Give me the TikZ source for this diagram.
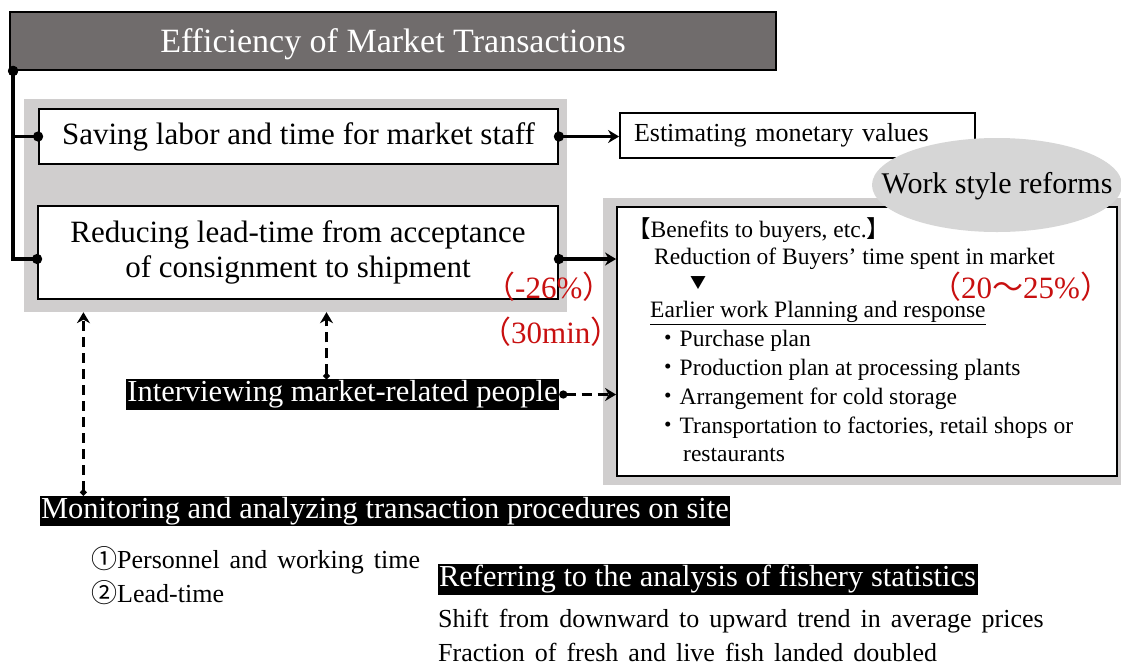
\documentclass[tikz,border=0pt]{standalone}
\usepackage{fontspec}
\setmainfont{Liberation Serif}
\newfontfamily\cjk{Noto Sans CJK JP}
\usepackage{tikz}
\usetikzlibrary{arrows.meta, positioning}
\definecolor{headgray}{RGB}{112,108,108}
\definecolor{panelgray}{RGB}{208,206,206}
\definecolor{ovalgray}{RGB}{214,214,214}
\definecolor{redtxt}{RGB}{200,16,16}

\begin{document}
\begin{tikzpicture}[x=1pt, y=-1pt, >={Stealth[length=11pt, width=13pt]},
        box/.style={draw, line width=1.8pt, fill=white, inner sep=0pt},
        panel/.style={fill=panelgray, inner sep=0pt},
        blk/.style={fill=black, text=white, inner sep=1.5pt, font=\fontsize{30.5}{34}\selectfont},
        txt/.style={anchor=west, inner sep=0pt, font=\fontsize{23.5}{27}\selectfont},
        note/.style={anchor=west, inner sep=0pt, font={\fontsize{26}{30}\selectfont\spaceskip=10pt plus 1pt}},
        redlab/.style={anchor=west, inner sep=0pt, text=redtxt, font=\fontsize{31}{35}\selectfont},
        conn/.style={line width=3.5pt},
        dashconn/.style={line width=3.5pt, dash pattern=on 10pt off 6pt}]
    \useasboundingbox (0,0) rectangle (1121,667);

    % title
    \node[draw, line width=1.8pt, fill=headgray, text=white, minimum width=766, minimum height=58,
        inner sep=0pt, text depth=0pt, font=\fontsize{34}{40}\selectfont] (title) at (393,41) {Efficiency of Market Transactions};

    % left panel
    \node[panel, minimum width=543, minimum height=213] (leftpanel) at (295.5,205.5) {};
    \node[box, minimum width=519, minimum height=55, font=\fontsize{31}{36}\selectfont] (saving) at (298.5,136.5)
        {Saving labor and time for market staff};
    \node[box, minimum width=520, minimum height=93, align=center, font=\fontsize{31}{35}\selectfont] (leadtime) at (298,252.5)
        {Reducing lead-time from acceptance\\of consignment to shipment};

    % right side
    \node[box, text width=327pt, inner xsep=14pt, minimum height=45, align=left,
        font={\fontsize{26}{30}\selectfont\spaceskip=15pt plus 2pt}] (estimate) at (797.5,135.5) {Estimating monetary values};
    \node[panel, minimum width=518, minimum height=287] (rightpanel) at (862,341.5) {};
    \node[box, minimum width=500, minimum height=269] (benefits) at (867,341.5) {};
    \fill[ovalgray] (997,185) ellipse [x radius=125, y radius=47];
    \node[inner sep=0pt, font=\fontsize{30}{34}\selectfont] (reform) at (997,186) {Work style reforms};

    % benefits text
    \node[txt] (bene) at (627,230) {{\cjk 【}Benefits to buyers, etc.{\cjk 】}};
    \node[txt] (reduc) at (654,259) {Reduction of Buyers’ time spent in market};
    \node[inner sep=0pt, font=\cjk\fontsize{16}{16}\selectfont] (tri) at (698,283) {▼};
    \node[redlab, text depth=0pt] (pcttwo) at (930,285) {{\cjk （}20{\cjk 〜}25\%{\cjk ）}};
    \node[txt] (early) at (650,313) {\underline{Earlier work Planning and response}};
    \node[txt] (bone) at (656,341) {{\cjk ・}Purchase plan};
    \node[txt] (btwo) at (656,370) {{\cjk ・}Production plan at processing plants};
    \node[txt] (bthree) at (656,399) {{\cjk ・}Arrangement for cold storage};
    \node[txt] (bfour) at (656,428) {{\cjk ・}Transportation to factories, retail shops or};
    \node[txt] (bfive) at (683,455) {restaurants};

    % red notes
    \node[redlab] (pctone) at (484,287) {{\cjk （}-26\%{\cjk ）}};
    \node[redlab] (mins) at (480,332) {{\cjk （}30min{\cjk ）}};

    % methods
    \node[blk] (interview) at (342.5,394.5) {Interviewing market-related people};
    \node[blk] (monitor) at (385,511) {Monitoring and analyzing transaction procedures on site};
    \node[blk] (refer) at (707.5,579.5) {Referring to the analysis of fishery statistics};
    \node[note] (pers) at (91,560) {{\cjk ①}Personnel and working time};
    \node[note] (lead) at (91,593) {{\cjk ②}Lead-time};
    \node[note] (shift) at (438,621) {Shift from downward to upward trend in average prices};
    \node[note] (fresh) at (438,652) {Fraction of fresh and live fish landed doubled};

    % connectors
    \coordinate (corner) at ([xshift=4pt]title.south west);
    \draw[conn, {Circle[length=10pt]}-{Circle[length=10pt]}, shorten <=-5pt, shorten >=-5pt]
        (corner) |- (saving.west);
    \draw[conn, {Circle[length=10pt]}-{Circle[length=10pt]}, shorten <=-5pt, shorten >=-5pt]
        (corner) |- ([yshift=-6.5pt]leadtime.west);
    \draw[conn, {Circle[length=10pt]}->, shorten <=-5pt]
        (saving.east) -- (saving.east -| estimate.west);
    \coordinate (ltout) at ([yshift=-6.5pt]leadtime.east);
    \draw[conn, {Circle[length=10pt]}->, shorten <=-5pt]
        (ltout) -- (ltout -| benefits.west);
    \draw[dashconn, {Circle[length=8pt]}->]
        (interview.east) -- (interview.east -| benefits.west);
    \coordinate (intup) at ([xshift=-16pt]interview.north);
    \draw[dashconn, {Circle[length=6pt]}->]
        (intup) -- (intup |- leftpanel.south);
    \coordinate (monup) at ([xshift=44pt]monitor.north west);
    \draw[dashconn, {Circle[length=6pt]}->]
        (monup) -- (monup |- leftpanel.south);
\end{tikzpicture}
\end{document}
